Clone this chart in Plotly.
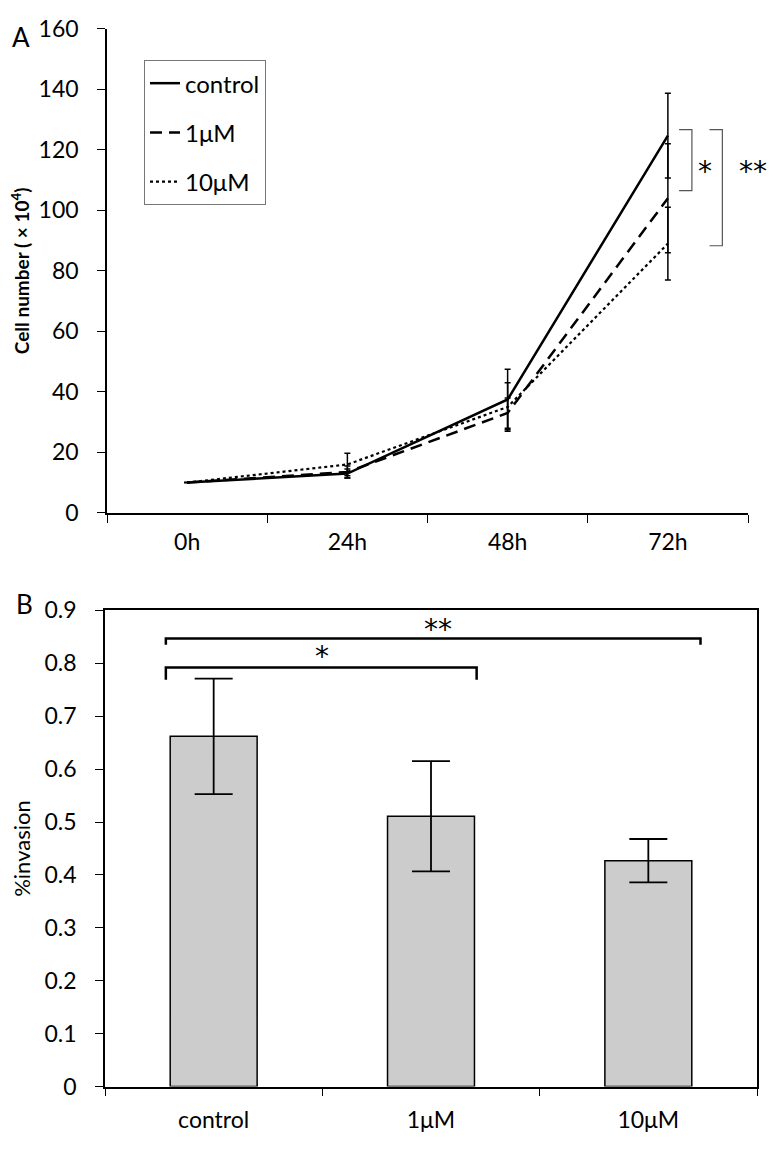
import plotly.graph_objects as go

# ---------------- data ----------------
time_labels = ["0h", "24h", "48h", "72h"]
control_vals = [10, 13, 37.5, 124.7]
control_err = [0, 1.5, 10, 14]
um1_vals = [10, 13.5, 33, 104]
um1_err = [0, 2, 5, 18]
um10_vals = [10, 16, 35, 89]
um10_err = [0, 3.7, 8, 12]

groups = ["control", "1μM", "10μM"]
invasion_vals = [0.662, 0.511, 0.427]
invasion_err = [0.109, 0.104, 0.041]

W, H = 777, 1157
OFF = 8  # default body margin of the html page
FONT = "Lato"

def px_x(p):
    return (p - OFF) / W

def px_y(p):
    return 1 - (p - OFF) / H

fig = go.Figure()

series = [
    ("control", control_vals, control_err, "solid", 2.5),
    ("1μM", um1_vals, um1_err, "12px,7px", 2.5),
    ("10μM", um10_vals, um10_err, "3px,3px", 2.2),
]
for i, (name, vals, err, dash, w) in enumerate(series):
    fig.add_trace(go.Scatter(
        x=time_labels, y=vals, name=name, mode="lines",
        line=dict(color="black", width=w, dash=dash),
        error_y=dict(type="data", array=err, visible=True, color="black",
                     thickness=1.5, width=3),
        legendgroup=f"g{i}", xaxis="x", yaxis="y",
    ))

fig.add_trace(go.Bar(
    x=groups, y=invasion_vals, showlegend=False,
    marker=dict(color="#cccccc", line=dict(color="black", width=1.5)),
    error_y=dict(type="data", array=invasion_err, visible=True, color="black",
                 thickness=1.8, width=19),
    xaxis="x2", yaxis="y2",
))

axis_font = dict(family=FONT, size=23, color="black")

fig.update_layout(
    width=W, height=H,
    margin=dict(l=0, r=0, t=0, b=0),
    paper_bgcolor="white", plot_bgcolor="white",
    font=dict(family=FONT, color="black"),
    bargap=0.6,
    xaxis=dict(
        domain=[px_x(107), px_x(748)], anchor="y",
        type="category", categoryorder="array", categoryarray=time_labels,
        range=[-0.5, 3.5], tickson="boundaries", ticks="outside", ticklen=8,
        tickcolor="black", tickwidth=1.2,
        showline=True, linecolor="black", linewidth=1.5, showgrid=False,
        tickfont=axis_font, ticklabelstandoff=8,
    ),
    yaxis=dict(
        domain=[px_y(510), px_y(14)], anchor="x",
        range=[0, 160], dtick=20, ticks="outside", ticklen=8,
        tickcolor="black", tickwidth=1.2,
        showline=True, linecolor="black", linewidth=1.5,
        showgrid=False, zeroline=False,
        tickfont=axis_font, ticklabelstandoff=14,
        title=dict(text="Cell number ( × 10<sup>4</sup>)",
                   font=dict(family=FONT, size=19, color="black", weight="bold"),
                   standoff=14),
    ),
    xaxis2=dict(
        domain=[px_x(105), px_x(757)], anchor="y2",
        type="category", categoryorder="array", categoryarray=groups,
        range=[-0.5, 2.5], tickson="boundaries", ticks="outside", ticklen=8,
        tickcolor="black", tickwidth=1.2,
        showline=True, linecolor="black", linewidth=1.5, mirror=True,
        showgrid=False, tickfont=axis_font, ticklabelstandoff=12,
    ),
    yaxis2=dict(
        domain=[px_y(1098), px_y(610)], anchor="x2",
        range=[0, 0.9], dtick=0.1, ticks="outside", ticklen=8,
        tickcolor="black", tickwidth=1.2,
        showline=True, linecolor="black", linewidth=1.5, mirror=True,
        showgrid=False, zeroline=False,
        tickfont=axis_font, ticklabelstandoff=14,
        title=dict(text="%invasion", font=dict(family=FONT, size=22, color="black"),
                   standoff=12),
    ),
    legend=dict(
        x=px_x(144), y=px_y(46), xanchor="left", yanchor="top",
        bordercolor="#777777", borderwidth=1, bgcolor="white",
        font=dict(family=FONT, size=24, color="black"),
        traceorder="grouped", tracegroupgap=15,
    ),
)

STAR = dict(family="DejaVu Sans", size=28, color="black")

# ---- significance brackets, panel A ----
br_col = "#555555"
def bracket_right(x0, x1, ytop, ybot):
    fig.add_shape(type="path",
                  path=f"M {x0} {ytop} L {x1} {ytop} L {x1} {ybot} L {x0} {ybot}",
                  xref="x", yref="y", line=dict(color=br_col, width=1.2))

bracket_right(3.07, 3.15, control_vals[3] + 2, um1_vals[3] + 2.5)
bracket_right(3.26, 3.34, control_vals[3] + 2, um10_vals[3] - 0.7)
fig.add_annotation(x=3.23, y=113, xref="x", yref="y", text="*", showarrow=False,
                   xanchor="center", yanchor="middle", font=STAR)
fig.add_annotation(x=px_x(753), y=113, xref="paper", yref="y", text="**",
                   showarrow=False, xanchor="center", yanchor="middle", font=STAR)

# ---- significance brackets, panel B ----
def bracket_top(x0, x1, yline, yend):
    fig.add_shape(type="path",
                  path=f"M {x0} {yend} L {x0} {yline} L {x1} {yline} L {x1} {yend}",
                  xref="x2", yref="y2", line=dict(color="black", width=2.5))

bracket_top(-0.22, 2.24, 0.847, 0.835)
bracket_top(-0.22, 1.21, 0.792, 0.769)
fig.add_annotation(x=0.5, y=0.812, xref="x2", yref="y2", text="*", showarrow=False,
                   xanchor="center", yanchor="middle", font=STAR)
fig.add_annotation(x=1.03, y=0.864, xref="x2", yref="y2", text="**", showarrow=False,
                   xanchor="center", yanchor="middle", font=STAR)

# ---- panel letters ----
fig.add_annotation(x=px_x(21), y=px_y(22), xref="paper", yref="paper", text="A",
                   showarrow=False, xanchor="center", yanchor="middle",
                   font=dict(family=FONT, size=26, color="black"))
fig.add_annotation(x=px_x(24), y=px_y(603), xref="paper", yref="paper", text="B",
                   showarrow=False, xanchor="center", yanchor="middle",
                   font=dict(family=FONT, size=26, color="black"))

fig.write_html("out.html")
